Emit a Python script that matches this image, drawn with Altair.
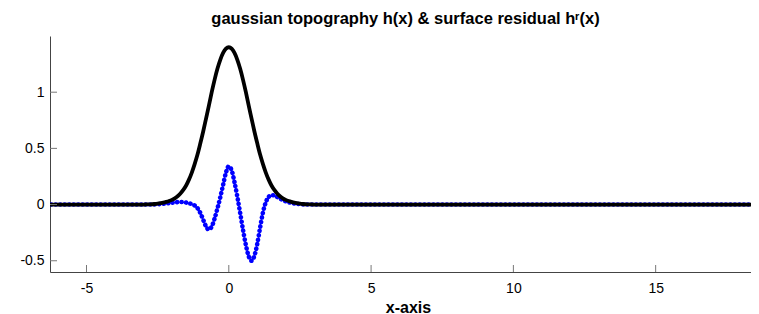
import altair as alt
import pandas as pd

# ---- data ----
x_vals = [-6.4,
          -3.0, -2.9, -2.8, -2.7, -2.6, -2.5, -2.4, -2.3, -2.2, -2.1,
          -2.0, -1.9, -1.8, -1.7, -1.6, -1.5, -1.4, -1.3, -1.2, -1.1,
          -1.0, -0.9, -0.8, -0.7, -0.6, -0.5, -0.4, -0.3, -0.2, -0.1,
          0.0, 0.1, 0.2, 0.3, 0.4, 0.5, 0.6, 0.7, 0.8, 0.9,
          1.0, 1.1, 1.2, 1.3, 1.4, 1.5, 1.6, 1.7, 1.8, 1.9,
          2.0, 2.1, 2.2, 2.3, 2.4, 2.5, 2.6, 2.7, 2.8, 2.9,
          3.0,
          18.9]

# gaussian topography h(x)
h_vals = [0.0,
          0.000, 0.001, 0.002, 0.003, 0.005, 0.008, 0.012, 0.017, 0.024, 0.032,
          0.042, 0.056, 0.074, 0.098, 0.130, 0.170, 0.222, 0.285, 0.360, 0.445,
          0.545, 0.650, 0.765, 0.880, 1.000, 1.110, 1.208, 1.288, 1.349, 1.387,
          1.400, 1.387, 1.349, 1.288, 1.208, 1.110, 1.000, 0.880, 0.765, 0.650,
          0.545, 0.445, 0.360, 0.285, 0.222, 0.170, 0.130, 0.098, 0.074, 0.056,
          0.042, 0.032, 0.024, 0.017, 0.012, 0.008, 0.005, 0.003, 0.002, 0.001,
          0.000,
          0.0]

# surface residual h^r(x)
hr_vals = [0.0,
           0.000, 0.000, 0.001, 0.001, 0.002, 0.003, 0.005, 0.007, 0.010, 0.013,
           0.016, 0.019, 0.022, 0.023, 0.022, 0.018, 0.012, 0.004, -0.008, -0.032,
           -0.075, -0.135, -0.195, -0.222, -0.195, -0.125, -0.035, 0.065, 0.175, 0.285,
           0.340, 0.305, 0.200, 0.070, -0.075, -0.225, -0.360, -0.460, -0.500, -0.455,
           -0.350, -0.205, -0.070, 0.020, 0.068, 0.084, 0.080, 0.068, 0.053, 0.040,
           0.029, 0.021, 0.014, 0.009, 0.006, 0.004, 0.002, 0.001, 0.001, 0.000,
           0.000,
           0.0]

x_ticks = [-5, 0, 5, 10, 15]
y_ticks = [-0.5, 0, 0.5, 1]
title_text = "gaussian topography h(x) & surface residual h\u02b3(x)"
x_title = "x-axis"

df = pd.DataFrame({"x": x_vals, "h": h_vals, "hr": hr_vals})

W, H = 701, 236
FONT = "Liberation Sans"

xscale = alt.Scale(domain=[-6.283, 18.35], nice=False, zero=False)
yscale = alt.Scale(domain=[-0.6, 1.5], nice=False, zero=False)

xaxis = alt.Axis(values=x_ticks, title=x_title, labelExpr="'' + datum.value",
                 ticks=False, tickSize=0, grid=False, domainColor="#444444",
                 labelFont=FONT, labelFontSize=14, labelColor="black", labelPadding=9,
                 titleFont=FONT, titleFontSize=16, titleFontWeight="bold",
                 titleColor="black", titlePadding=4, titleX=358)
yaxis = alt.Axis(values=y_ticks, title="", labelExpr="'' + datum.value",
                 ticks=False, tickSize=0, grid=False, domainColor="#444444",
                 labelFont=FONT, labelFontSize=14, labelColor="black", labelPadding=6,
                 minExtent=42, maxExtent=42)

base = alt.Chart(df)

blue = base.mark_line(color="#0000ff", strokeWidth=4.6, strokeCap="round",
                      strokeDash=[0.1, 4.4], interpolate="monotone", clip=True).encode(
    x=alt.X("x:Q", scale=xscale, axis=xaxis),
    y=alt.Y("hr:Q", scale=yscale, axis=yaxis),
)

black = base.mark_line(color="black", strokeWidth=3.8, interpolate="monotone",
                       clip=True).encode(
    x=alt.X("x:Q", scale=xscale, axis=xaxis),
    y=alt.Y("h:Q", scale=yscale, axis=yaxis),
)

xt = alt.Chart(pd.DataFrame({"x": x_ticks})).mark_rule(color="#777777", strokeWidth=1).encode(
    x=alt.X("x:Q", scale=xscale, axis=xaxis),
    y=alt.value(H),
    y2=alt.value(H - 7),
)

yt = alt.Chart(pd.DataFrame({"h": y_ticks})).mark_rule(color="#777777", strokeWidth=1).encode(
    y=alt.Y("h:Q", scale=yscale, axis=yaxis),
    x=alt.value(0),
    x2=alt.value(7),
)

chart = alt.layer(blue, black, xt, yt).properties(
    width=W,
    height=H,
    padding={"left": 0, "right": 0, "top": 2, "bottom": 0},
    title=alt.TitleParams(text=title_text, font=FONT, fontSize=16.5, fontWeight="bold",
                          color="black", anchor="middle", offset=9, dx=5),
).configure_view(strokeWidth=0)

chart.save("out.html", embed_options={"renderer": "svg", "actions": False})
